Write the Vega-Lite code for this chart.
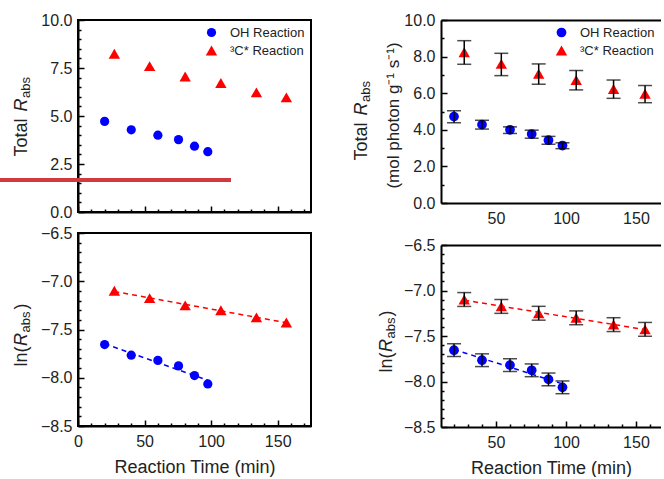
{
  "$schema": "https://vega.github.io/schema/vega-lite/v6.json",
  "padding": {"left": -4, "top": 11, "right": 0, "bottom": 0},
  "background": "white",
  "datasets": {
    "tot": [
      {"series": "OH Reaction", "t": 20, "R": 4.72, "lo": 4.38, "hi": 5.04},
      {"series": "OH Reaction", "t": 40, "R": 4.28, "lo": 4.04, "hi": 4.52},
      {"series": "OH Reaction", "t": 60, "R": 4.0, "lo": 3.8, "hi": 4.16},
      {"series": "OH Reaction", "t": 75.5, "R": 3.77, "lo": 3.54, "hi": 3.98},
      {"series": "OH Reaction", "t": 87.5, "R": 3.43, "lo": 3.21, "hi": 3.64},
      {"series": "OH Reaction", "t": 97.5, "R": 3.14, "lo": 2.97, "hi": 3.29},
      {"series": "³C* Reaction", "t": 27.3, "R": 8.24, "lo": 7.58, "hi": 8.87},
      {"series": "³C* Reaction", "t": 53.8, "R": 7.6, "lo": 6.96, "hi": 8.18},
      {"series": "³C* Reaction", "t": 80.5, "R": 7.06, "lo": 6.49, "hi": 7.6},
      {"series": "³C* Reaction", "t": 107.3, "R": 6.72, "lo": 6.18, "hi": 7.24},
      {"series": "³C* Reaction", "t": 134, "R": 6.23, "lo": 5.72, "hi": 6.72},
      {"series": "³C* Reaction", "t": 156.5, "R": 5.97, "lo": 5.48, "hi": 6.42}
    ],
    "ln": [
      {"series": "OH Reaction", "t": 20, "L": -7.656, "lo": -7.726, "hi": -7.586},
      {"series": "OH Reaction", "t": 40, "L": -7.766, "lo": -7.836, "hi": -7.696},
      {"series": "OH Reaction", "t": 60, "L": -7.82, "lo": -7.89, "hi": -7.75},
      {"series": "OH Reaction", "t": 75.5, "L": -7.877, "lo": -7.947, "hi": -7.807},
      {"series": "OH Reaction", "t": 87.5, "L": -7.977, "lo": -8.047, "hi": -7.907},
      {"series": "OH Reaction", "t": 97.5, "L": -8.064, "lo": -8.134, "hi": -7.994},
      {"series": "³C* Reaction", "t": 27.3, "L": -7.099, "lo": -7.175, "hi": -7.023},
      {"series": "³C* Reaction", "t": 53.8, "L": -7.175, "lo": -7.251, "hi": -7.099},
      {"series": "³C* Reaction", "t": 80.5, "L": -7.25, "lo": -7.326, "hi": -7.174},
      {"series": "³C* Reaction", "t": 107.3, "L": -7.3, "lo": -7.376, "hi": -7.224},
      {"series": "³C* Reaction", "t": 134, "L": -7.375, "lo": -7.451, "hi": -7.299},
      {"series": "³C* Reaction", "t": 156.5, "L": -7.427, "lo": -7.503, "hi": -7.351}
    ],
    "fit": [
      {"series": "OH Reaction", "t": 20, "L": -7.648},
      {"series": "OH Reaction", "t": 97.5, "L": -8.026},
      {"series": "³C* Reaction", "t": 27.3, "L": -7.106},
      {"series": "³C* Reaction", "t": 156.5, "L": -7.43}
    ],
    "redline": [{"x1": -58.6, "x2": 114.9, "y": 1.67}]
  },
  "config": {
    "font": "Liberation Sans",
    "view": {"stroke": "#000", "strokeWidth": 2},
    "axis": {
      "labelFont": "Liberation Sans", "labelFontSize": 16, "labelColor": "#222",
      "titleFont": "Liberation Sans", "titleFontSize": 18, "titleColor": "#222", "titleFontWeight": "normal",
      "domainColor": "#000", "domainWidth": 2, "tickColor": "#000", "tickWidth": 1.5,
      "grid": false, "labelFlush": false, "labelOverlap": false
    },
    "legend": {
      "orient": "top-right", "offset": 6, "padding": 0,
      "labelFont": "Liberation Sans", "labelFontSize": 13, "labelColor": "#222",
      "symbolSize": 110, "symbolStrokeWidth": 0, "rowPadding": 4, "labelOffset": 12
    }
  },
  "spacing": 40,
  "resolve": {"scale": {"color": "independent", "shape": "independent", "size": "independent"}},
  "hconcat": [
    {
      "spacing": 3,
      "resolve": {"scale": {"color": "independent", "shape": "independent", "size": "independent"}},
      "vconcat": [
        {
          "width": 233, "height": 192,
          "resolve": {"axis": {"x": "independent", "y": "independent"}},
          "layer": [
            {
              "data": {"name": "tot"},
              "mark": {"type": "point", "filled": true, "opacity": 1},
              "encoding": {
                "x": {"field": "t", "type": "quantitative", "scale": {"domain": [0, 175], "nice": false, "zero": false},
                      "axis": {"orient": "bottom", "labels": false, "ticks": false, "domain": true, "title": null}},
                "y": {"field": "R", "type": "quantitative", "scale": {"domain": [0, 10], "nice": false, "zero": false},
                      "axis": {"orient": "left", "values": [0, 2.5, 5, 7.5, 10], "format": ".1f", "ticks": false, "labelPadding": 6, "domain": true,
                               "title": "Total", "titleX": -52, "titleY": 136, "titleAngle": -90, "titleAlign": "left", "titleBaseline": "alphabetic"}},
                "color": {"field": "series", "type": "nominal", "scale": {"domain": ["OH Reaction", "³C* Reaction"], "range": ["#0000ff", "#ff0000"]}, "legend": {"title": null}},
                "shape": {"field": "series", "type": "nominal", "scale": {"domain": ["OH Reaction", "³C* Reaction"], "range": ["circle", "triangle-up"]}, "legend": {"title": null}},
                "size": {"field": "series", "type": "nominal", "scale": {"domain": ["OH Reaction", "³C* Reaction"], "range": [85, 130]}, "legend": null}
              }
            },
            {
              "data": {"name": "tot"},
              "mark": {"type": "point", "opacity": 0},
              "encoding": {
                "x": {"field": "t", "type": "quantitative", "scale": {"domain": [0, 175], "nice": false, "zero": false},
                      "axis": {"orient": "bottom", "values": [0, 50, 100, 150], "labels": false, "domain": false, "tickSize": -6, "title": null}},
                "y": {"field": "R", "type": "quantitative", "scale": {"domain": [0, 10], "nice": false, "zero": false},
                      "axis": {"orient": "left", "values": [0, 2.5, 5, 7.5, 10], "labels": false, "domain": false, "tickSize": -6,
                               "title": "R", "titleFontStyle": "italic", "titleX": -52, "titleY": 91, "titleAngle": -90, "titleAlign": "left", "titleBaseline": "alphabetic"}}
              }
            },
            {
              "data": {"name": "tot"},
              "mark": {"type": "point", "opacity": 0},
              "encoding": {
                "x": {"field": "t", "type": "quantitative", "scale": {"domain": [0, 175], "nice": false, "zero": false},
                      "axis": {"orient": "bottom", "values": [10, 20, 30, 40, 60, 70, 80, 90, 110, 120, 130, 140, 160, 170], "labels": false, "domain": false, "tickSize": -3, "title": null}},
                "y": {"field": "R", "type": "quantitative", "scale": {"domain": [0, 10], "nice": false, "zero": false},
                      "axis": {"orient": "left", "values": [0.5, 1, 1.5, 2, 3, 3.5, 4, 4.5, 5.5, 6, 6.5, 7, 8, 8.5, 9, 9.5], "labels": false, "domain": false, "tickSize": -3,
                               "title": "abs", "titleFontSize": 13, "titleX": -49, "titleY": 77.5, "titleAngle": -90, "titleAlign": "left", "titleBaseline": "alphabetic"}}
              }
            },
            {
              "data": {"name": "redline"},
              "mark": {"type": "rule", "color": "#d1393f", "strokeWidth": 4, "clip": false},
              "encoding": {
                "x": {"field": "x1", "type": "quantitative", "scale": {"domain": [0, 175], "nice": false, "zero": false}, "axis": null},
                "x2": {"field": "x2"},
                "y": {"field": "y", "type": "quantitative", "scale": {"domain": [0, 10], "nice": false, "zero": false}, "axis": null}
              }
            }
          ]
        },
        {
          "width": 233, "height": 193,
          "resolve": {"axis": {"x": "independent", "y": "independent"}},
          "layer": [
            {
              "data": {"name": "fit"},
              "mark": {"type": "line", "strokeDash": [5, 4], "strokeWidth": 1.5},
              "encoding": {
                "x": {"field": "t", "type": "quantitative", "scale": {"domain": [0, 175], "nice": false, "zero": false}, "axis": null},
                "y": {"field": "L", "type": "quantitative", "scale": {"domain": [-8.5, -6.5], "nice": false, "zero": false}, "axis": null},
                "color": {"field": "series", "type": "nominal", "scale": {"domain": ["OH Reaction", "³C* Reaction"], "range": ["#0000ff", "#ff0000"]}, "legend": null},
                "detail": {"field": "series"}
              }
            },
            {
              "data": {"name": "ln"},
              "mark": {"type": "point", "filled": true, "opacity": 1},
              "encoding": {
                "x": {"field": "t", "type": "quantitative", "scale": {"domain": [0, 175], "nice": false, "zero": false},
                      "axis": {"orient": "bottom", "values": [0, 50, 100, 150], "ticks": false, "labelPadding": 7, "domain": true, "title": "Reaction Time (min)", "titlePadding": 9}},
                "y": {"field": "L", "type": "quantitative", "scale": {"domain": [-8.5, -6.5], "nice": false, "zero": false},
                      "axis": {"orient": "left", "values": [-8.5, -8, -7.5, -7, -6.5], "format": ".1f", "ticks": false, "labelPadding": 6, "domain": true,
                               "title": "ln(", "titleX": -52, "titleY": 133, "titleAngle": -90, "titleAlign": "left", "titleBaseline": "alphabetic"}},
                "color": {"field": "series", "type": "nominal", "scale": {"domain": ["OH Reaction", "³C* Reaction"], "range": ["#0000ff", "#ff0000"]}, "legend": null},
                "shape": {"field": "series", "type": "nominal", "scale": {"domain": ["OH Reaction", "³C* Reaction"], "range": ["circle", "triangle-up"]}, "legend": null},
                "size": {"field": "series", "type": "nominal", "scale": {"domain": ["OH Reaction", "³C* Reaction"], "range": [85, 130]}, "legend": null}
              }
            },
            {
              "data": {"name": "ln"},
              "mark": {"type": "point", "opacity": 0},
              "encoding": {
                "x": {"field": "t", "type": "quantitative", "scale": {"domain": [0, 175], "nice": false, "zero": false},
                      "axis": {"orient": "bottom", "values": [0, 50, 100, 150], "labels": false, "domain": false, "tickSize": -6, "title": null}},
                "y": {"field": "L", "type": "quantitative", "scale": {"domain": [-8.5, -6.5], "nice": false, "zero": false},
                      "axis": {"orient": "left", "values": [-8.5, -8, -7.5, -7, -6.5], "labels": false, "domain": false, "tickSize": -6,
                               "title": "R", "titleFontStyle": "italic", "titleX": -52, "titleY": 112.5, "titleAngle": -90, "titleAlign": "left", "titleBaseline": "alphabetic"}}
              }
            },
            {
              "data": {"name": "ln"},
              "mark": {"type": "point", "opacity": 0},
              "encoding": {
                "x": {"field": "t", "type": "quantitative", "scale": {"domain": [0, 175], "nice": false, "zero": false},
                      "axis": {"orient": "bottom", "values": [10, 20, 30, 40, 60, 70, 80, 90, 110, 120, 130, 140, 160, 170], "labels": false, "domain": false, "tickSize": -3, "title": null}},
                "y": {"field": "L", "type": "quantitative", "scale": {"domain": [-8.5, -6.5], "nice": false, "zero": false},
                      "axis": {"orient": "left", "values": [-8.4, -8.3, -8.2, -8.1, -7.9, -7.8, -7.7, -7.6, -7.4, -7.3, -7.2, -7.1, -6.9, -6.8, -6.7, -6.6], "labels": false, "domain": false, "tickSize": -3,
                               "title": "abs", "titleFontSize": 13, "titleX": -49, "titleY": 99, "titleAngle": -90, "titleAlign": "left", "titleBaseline": "alphabetic"}}
              }
            },
            {
              "data": {"name": "ln"},
              "mark": {"type": "point", "opacity": 0},
              "encoding": {
                "x": {"field": "t", "type": "quantitative", "scale": {"domain": [0, 175], "nice": false, "zero": false}, "axis": null},
                "y": {"field": "L", "type": "quantitative", "scale": {"domain": [-8.5, -6.5], "nice": false, "zero": false},
                      "axis": {"orient": "left", "labels": false, "ticks": false, "domain": false,
                               "title": ")", "titleX": -52, "titleY": 76, "titleAngle": -90, "titleAlign": "left", "titleBaseline": "alphabetic"}}
              }
            }
          ]
        }
      ]
    },
    {
      "spacing": 11,
      "resolve": {"scale": {"color": "independent", "shape": "independent", "size": "independent"}},
      "vconcat": [
        {
          "width": 220, "height": 183,
          "view": {"stroke": null},
          "resolve": {"axis": {"x": "independent", "y": "independent"}},
          "layer": [
            {
              "data": {"name": "tot"},
              "mark": {"type": "point", "filled": true, "opacity": 1},
              "encoding": {
                "x": {"field": "t", "type": "quantitative", "scale": {"domain": [10.7, 167.9], "nice": false, "zero": false},
                      "axis": {"orient": "bottom", "values": [50, 100, 150], "ticks": false, "labelPadding": 7, "domain": true, "title": null}},
                "y": {"field": "R", "type": "quantitative", "scale": {"domain": [0, 10], "nice": false, "zero": false},
                      "axis": {"orient": "left", "values": [0, 2, 4, 6, 8, 10], "format": ".1f", "ticks": false, "labelPadding": 6, "domain": true,
                               "title": "Total", "titleX": -75, "titleY": 140, "titleAngle": -90, "titleAlign": "left", "titleBaseline": "alphabetic"}},
                "color": {"field": "series", "type": "nominal", "scale": {"domain": ["OH Reaction", "³C* Reaction"], "range": ["#0000ff", "#ff0000"]}, "legend": {"title": null}},
                "shape": {"field": "series", "type": "nominal", "scale": {"domain": ["OH Reaction", "³C* Reaction"], "range": ["circle", "triangle-up"]}, "legend": {"title": null}},
                "size": {"field": "series", "type": "nominal", "scale": {"domain": ["OH Reaction", "³C* Reaction"], "range": [95, 130]}, "legend": null}
              }
            },
            {
              "data": {"name": "tot"},
              "mark": {"type": "rule", "color": "#000", "strokeWidth": 1.5},
              "encoding": {
                "x": {"field": "t", "type": "quantitative", "scale": {"domain": [10.7, 167.9], "nice": false, "zero": false}, "axis": null},
                "y": {"field": "lo", "type": "quantitative", "scale": {"domain": [0, 10], "nice": false, "zero": false}, "axis": null},
                "y2": {"field": "hi"}
              }
            },
            {
              "data": {"name": "tot"},
              "mark": {"type": "tick", "orient": "horizontal", "color": "#000", "size": 14, "thickness": 1.5},
              "encoding": {
                "x": {"field": "t", "type": "quantitative", "scale": {"domain": [10.7, 167.9], "nice": false, "zero": false}, "axis": null},
                "y": {"field": "lo", "type": "quantitative", "scale": {"domain": [0, 10], "nice": false, "zero": false}, "axis": null}
              }
            },
            {
              "data": {"name": "tot"},
              "mark": {"type": "tick", "orient": "horizontal", "color": "#000", "size": 14, "thickness": 1.5},
              "encoding": {
                "x": {"field": "t", "type": "quantitative", "scale": {"domain": [10.7, 167.9], "nice": false, "zero": false}, "axis": null},
                "y": {"field": "hi", "type": "quantitative", "scale": {"domain": [0, 10], "nice": false, "zero": false}, "axis": null}
              }
            },
            {
              "data": {"name": "tot"},
              "mark": {"type": "point", "opacity": 0},
              "encoding": {
                "x": {"field": "t", "type": "quantitative", "scale": {"domain": [10.7, 167.9], "nice": false, "zero": false},
                      "axis": {"orient": "top", "labels": false, "ticks": false, "domain": true, "title": null}},
                "y": {"field": "R", "type": "quantitative", "scale": {"domain": [0, 10], "nice": false, "zero": false},
                      "axis": {"orient": "left", "values": [0, 2, 4, 6, 8, 10], "labels": false, "domain": false, "tickSize": -6,
                               "title": "R", "titleFontStyle": "italic", "titleX": -75, "titleY": 95, "titleAngle": -90, "titleAlign": "left", "titleBaseline": "alphabetic"}}
              }
            },
            {
              "data": {"name": "tot"},
              "mark": {"type": "point", "opacity": 0},
              "encoding": {
                "x": {"field": "t", "type": "quantitative", "scale": {"domain": [10.7, 167.9], "nice": false, "zero": false}, "axis": null},
                "y": {"field": "R", "type": "quantitative", "scale": {"domain": [0, 10], "nice": false, "zero": false},
                      "axis": {"orient": "left", "values": [1, 3, 5, 7, 9], "labels": false, "domain": false, "tickSize": -3,
                               "title": "abs", "titleFontSize": 13, "titleX": -72, "titleY": 81.5, "titleAngle": -90, "titleAlign": "left", "titleBaseline": "alphabetic"}}
              }
            },
            {
              "data": {"name": "tot"},
              "mark": {"type": "point", "opacity": 0},
              "encoding": {
                "x": {"field": "t", "type": "quantitative", "scale": {"domain": [10.7, 167.9], "nice": false, "zero": false}, "axis": null},
                "y": {"field": "R", "type": "quantitative", "scale": {"domain": [0, 10], "nice": false, "zero": false},
                      "axis": {"orient": "left", "labels": false, "ticks": false, "domain": false,
                               "title": "(mol photon g⁻¹ s⁻¹)", "titleFontSize": 17, "titleX": -43, "titleY": 95, "titleAngle": -90, "titleAlign": "center", "titleBaseline": "alphabetic"}}
              }
            }
          ]
        },
        {
          "width": 220, "height": 182,
          "view": {"stroke": null},
          "resolve": {"axis": {"x": "independent", "y": "independent"}},
          "layer": [
            {
              "data": {"name": "fit"},
              "mark": {"type": "line", "strokeDash": [5, 4], "strokeWidth": 1.5},
              "encoding": {
                "x": {"field": "t", "type": "quantitative", "scale": {"domain": [10.7, 167.9], "nice": false, "zero": false}, "axis": null},
                "y": {"field": "L", "type": "quantitative", "scale": {"domain": [-8.5, -6.5], "nice": false, "zero": false}, "axis": null},
                "color": {"field": "series", "type": "nominal", "scale": {"domain": ["OH Reaction", "³C* Reaction"], "range": ["#0000ff", "#ff0000"]}, "legend": null},
                "detail": {"field": "series"}
              }
            },
            {
              "data": {"name": "ln"},
              "mark": {"type": "point", "filled": true, "opacity": 1},
              "encoding": {
                "x": {"field": "t", "type": "quantitative", "scale": {"domain": [10.7, 167.9], "nice": false, "zero": false},
                      "axis": {"orient": "bottom", "values": [50, 100, 150], "ticks": false, "labelPadding": 7, "domain": true, "title": "Reaction Time (min)", "titlePadding": 9}},
                "y": {"field": "L", "type": "quantitative", "scale": {"domain": [-8.5, -6.5], "nice": false, "zero": false},
                      "axis": {"orient": "left", "values": [-8.5, -8, -7.5, -7, -6.5], "format": ".1f", "ticks": false, "labelPadding": 6, "domain": true,
                               "title": "ln(", "titleX": -50, "titleY": 127, "titleAngle": -90, "titleAlign": "left", "titleBaseline": "alphabetic"}},
                "color": {"field": "series", "type": "nominal", "scale": {"domain": ["OH Reaction", "³C* Reaction"], "range": ["#0000ff", "#ff0000"]}, "legend": null},
                "shape": {"field": "series", "type": "nominal", "scale": {"domain": ["OH Reaction", "³C* Reaction"], "range": ["circle", "triangle-up"]}, "legend": null},
                "size": {"field": "series", "type": "nominal", "scale": {"domain": ["OH Reaction", "³C* Reaction"], "range": [95, 130]}, "legend": null}
              }
            },
            {
              "data": {"name": "ln"},
              "mark": {"type": "rule", "color": "#000", "strokeWidth": 1.5},
              "encoding": {
                "x": {"field": "t", "type": "quantitative", "scale": {"domain": [10.7, 167.9], "nice": false, "zero": false}, "axis": null},
                "y": {"field": "lo", "type": "quantitative", "scale": {"domain": [-8.5, -6.5], "nice": false, "zero": false}, "axis": null},
                "y2": {"field": "hi"}
              }
            },
            {
              "data": {"name": "ln"},
              "mark": {"type": "tick", "orient": "horizontal", "color": "#000", "size": 14, "thickness": 1.5},
              "encoding": {
                "x": {"field": "t", "type": "quantitative", "scale": {"domain": [10.7, 167.9], "nice": false, "zero": false}, "axis": null},
                "y": {"field": "lo", "type": "quantitative", "scale": {"domain": [-8.5, -6.5], "nice": false, "zero": false}, "axis": null}
              }
            },
            {
              "data": {"name": "ln"},
              "mark": {"type": "tick", "orient": "horizontal", "color": "#000", "size": 14, "thickness": 1.5},
              "encoding": {
                "x": {"field": "t", "type": "quantitative", "scale": {"domain": [10.7, 167.9], "nice": false, "zero": false}, "axis": null},
                "y": {"field": "hi", "type": "quantitative", "scale": {"domain": [-8.5, -6.5], "nice": false, "zero": false}, "axis": null}
              }
            },
            {
              "data": {"name": "ln"},
              "mark": {"type": "point", "opacity": 0},
              "encoding": {
                "x": {"field": "t", "type": "quantitative", "scale": {"domain": [10.7, 167.9], "nice": false, "zero": false},
                      "axis": {"orient": "bottom", "values": [50, 100, 150], "labels": false, "domain": false, "tickSize": -6, "title": null}},
                "y": {"field": "L", "type": "quantitative", "scale": {"domain": [-8.5, -6.5], "nice": false, "zero": false},
                      "axis": {"orient": "left", "values": [-8.5, -8, -7.5, -7, -6.5], "labels": false, "domain": false, "tickSize": -6,
                               "title": "R", "titleFontStyle": "italic", "titleX": -50, "titleY": 106.5, "titleAngle": -90, "titleAlign": "left", "titleBaseline": "alphabetic"}}
              }
            },
            {
              "data": {"name": "ln"},
              "mark": {"type": "point", "opacity": 0},
              "encoding": {
                "x": {"field": "t", "type": "quantitative", "scale": {"domain": [10.7, 167.9], "nice": false, "zero": false},
                      "axis": {"orient": "bottom", "values": [20, 30, 40, 60, 70, 80, 90, 110, 120, 130, 140, 160], "labels": false, "domain": false, "tickSize": -3, "title": null}},
                "y": {"field": "L", "type": "quantitative", "scale": {"domain": [-8.5, -6.5], "nice": false, "zero": false},
                      "axis": {"orient": "left", "values": [-8.4, -8.3, -8.2, -8.1, -7.9, -7.8, -7.7, -7.6, -7.4, -7.3, -7.2, -7.1, -6.9, -6.8, -6.7, -6.6], "labels": false, "domain": false, "tickSize": -3,
                               "title": "abs", "titleFontSize": 13, "titleX": -47, "titleY": 93, "titleAngle": -90, "titleAlign": "left", "titleBaseline": "alphabetic"}}
              }
            },
            {
              "data": {"name": "ln"},
              "mark": {"type": "point", "opacity": 0},
              "encoding": {
                "x": {"field": "t", "type": "quantitative", "scale": {"domain": [10.7, 167.9], "nice": false, "zero": false},
                      "axis": {"orient": "top", "labels": false, "ticks": false, "domain": true, "title": null}},
                "y": {"field": "L", "type": "quantitative", "scale": {"domain": [-8.5, -6.5], "nice": false, "zero": false},
                      "axis": {"orient": "left", "labels": false, "ticks": false, "domain": false,
                               "title": ")", "titleX": -50, "titleY": 71, "titleAngle": -90, "titleAlign": "left", "titleBaseline": "alphabetic"}}
              }
            }
          ]
        }
      ]
    }
  ]
}
